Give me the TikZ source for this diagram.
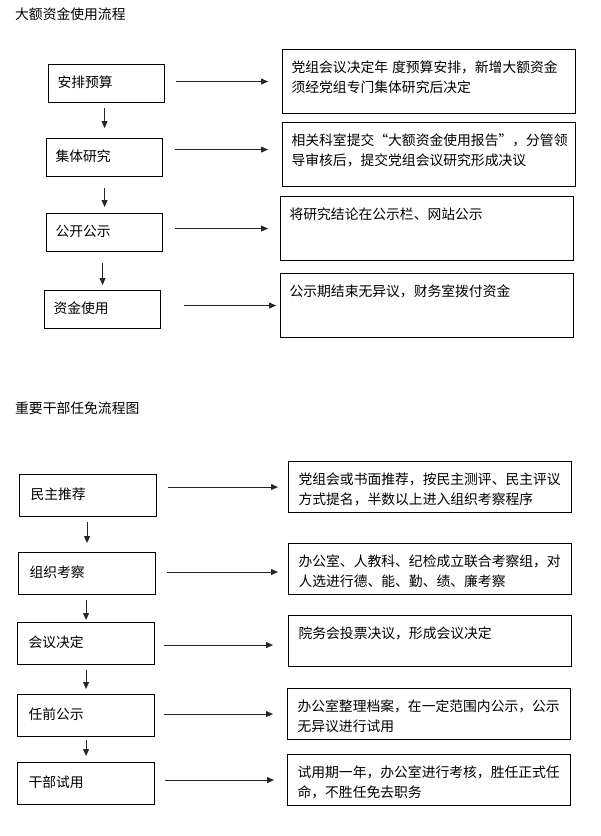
\documentclass[tikz,border=0pt]{standalone}
\usepackage{fontspec}
\setmainfont{Noto Sans CJK SC}
\usetikzlibrary{arrows.meta}

\begin{document}
\begin{tikzpicture}[x=1pt, y=-1pt,
    font=\fontsize{13.8pt}{20pt}\selectfont,
    boxa/.style={draw, line width=1.1pt, anchor=north west, align=left,
        inner xsep=9pt, text width=98pt, minimum height=38pt,
        text height=12pt, text depth=5pt},
    boxb/.style={boxa, inner xsep=11pt, text width=115pt, minimum height=42pt},
    notea/.style={draw, line width=1.1pt, anchor=north west, align=left,
        inner xsep=9pt, inner ysep=11pt, text width=275pt,
        text height=12pt, text depth=30pt},
    noteb/.style={notea, inner xsep=10pt, text width=263pt, text depth=17pt},
    arr/.style={-{Triangle[length=7pt,width=6pt]}, line width=0.9pt, black!85}]
    \useasboundingbox (0,0) rectangle (601,836);

    % First chart
    \node[anchor=west, inner sep=0pt] (titleA) at (15,14) {大额资金使用流程};

    \node[boxa] (A1) at (48,64)  {安排预算};
    \node[boxa] (A2) at (46,138) {集体研究};
    \node[boxa] (A3) at (46,213) {公开公示};
    \node[boxa] (A4) at (44,290) {资金使用};

    \node[notea] (R1) at (282,49)  {党组会议决定年\hspace{4pt}度预算安排，新增大额资金\\须经党组专门集体研究后决定};
    \node[notea] (R2) at (282,122) {相关科室提交“大额资金使用报告”，分管领\\导审核后，提交党组会议研究形成决议};
    \node[notea] (R3) at (280,196) {将研究结论在公示栏、网站公示};
    \node[notea] (R4) at (280,273) {公示期结束无异议，财务室拨付资金};

    \draw[arr, shorten <=11pt, shorten >=14pt] (A1.east |- R1.west) -- (R1.west);
    \draw[arr, shorten <=12pt, shorten >=14pt] ([yshift=5pt]A2.east |- R2.west) -- ([yshift=5pt]R2.west);
    \draw[arr, shorten <=12pt, shorten >=12pt] (A3.east |- R3.west) -- (R3.west);
    \draw[arr, shorten <=23pt, shorten >=4pt] (A4.east |- R4.west) -- (R4.west);

    \draw[arr, shorten <=5pt, shorten >=10pt] (A2.north |- A1.south) -- (A2.north);
    \draw[arr, shorten <=11pt, shorten >=6pt] (A3.north |- A2.south) -- (A3.north);
    \draw[arr, shorten <=11pt, shorten >=5pt] (A4.north |- A3.south) -- (A4.north);

    % Second chart
    \node[anchor=west, inner sep=0pt] (titleB) at (15,408) {重要干部任免流程图};

    \node[boxb] (B1) at (19,474) {民主推荐};
    \node[boxb] (B2) at (18,552) {组织考察};
    \node[boxb] (B3) at (17,622) {会议决定};
    \node[boxb] (B4) at (17,694) {任前公示};
    \node[boxb] (B5) at (17,762) {干部试用};

    \node[noteb] (S1) at (288,461) {党组会或书面推荐，按民主测评、民主评议\\方式提名，半数以上进入组织考察程序};
    \node[noteb] (S2) at (288,543) {办公室、人教科、纪检成立联合考察组，对\\人选进行德、能、勤、绩、廉考察};
    \node[noteb] (S3) at (288,615) {院务会投票决议，形成会议决定};
    \node[noteb] (S4) at (287,688) {办公室整理档案，在一定范围内公示，公示\\无异议进行试用};
    \node[noteb] (S5) at (287,754) {试用期一年，办公室进行考核，胜任正式任\\命，不胜任免去职务};

    \draw[arr, shorten <=11pt, shorten >=10pt] (B1.east |- S1.west) -- (S1.west);
    \draw[arr, shorten <=11pt, shorten >=10pt] ([yshift=-3pt]B2.east |- S2.west) -- ([yshift=-3pt]S2.west);
    \draw[arr, shorten <=9pt, shorten >=15pt] ([yshift=-4pt]B3.east |- S3.west) -- ([yshift=-4pt]S3.west);
    \draw[arr, shorten <=9pt, shorten >=14pt] (B4.east |- S4.west) -- (S4.west);
    \draw[arr, shorten <=10pt, shorten >=13pt] (B5.east |- S5.west) -- (S5.west);

    \draw[arr, shorten <=5pt, shorten >=9pt] (B2.north |- B1.south) -- (B2.north);
    \draw[arr, shorten <=5pt, shorten >=2pt] (B3.north |- B2.south) -- (B3.north);
    \draw[arr, shorten <=5pt, shorten >=5pt] (B4.north |- B3.south) -- (B4.north);
    \draw[arr, shorten <=3pt, shorten >=6pt] (B5.north |- B4.south) -- (B5.north);
\end{tikzpicture}
\end{document}
